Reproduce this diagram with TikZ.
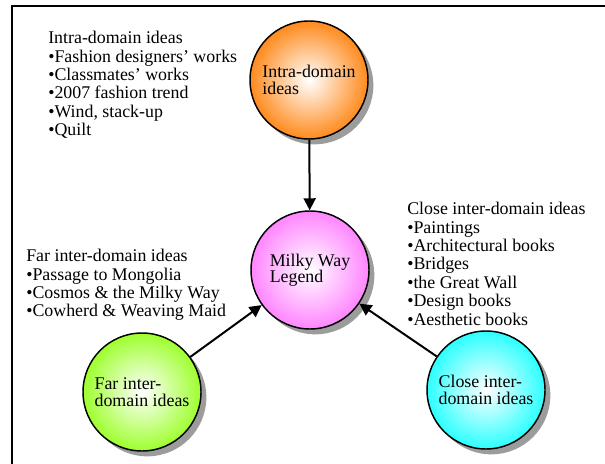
\documentclass[tikz,border=0pt]{standalone}
\usepackage{fontspec}
\setmainfont{Liberation Serif}
\usetikzlibrary{arrows.meta,positioning,shadows}
\definecolor{mwInk}{HTML}{000000}
\definecolor{mwShadow}{HTML}{9C9C9C}
\definecolor{mwOrange}{HTML}{FF8A1C}
\definecolor{mwPink}{HTML}{FF85FF}
\definecolor{mwLime}{HTML}{9EFF2E}
\definecolor{mwCyan}{HTML}{2CFFFF}
\tikzset{
  mw frame/.style={draw=mwInk, line width=1.5pt},
  mw bubble/.style={
    circle,
    draw=mwInk,
    line width=1.1pt,
    minimum size=88.5pt,
    inner sep=0pt,
    align=left,
    inner color=white,
    outer color=#1,
    font=\fontsize{13.4pt}{12.4pt}\selectfont,
    drop shadow={shadow xshift=4pt, shadow yshift=-4pt, fill=mwShadow, opacity=1}
  },
  mw link/.style={
    draw=mwInk,
    line width=1.5pt,
    -{Triangle[length=9pt,width=9pt]}
  },
  mw list/.style={
    anchor=north west,
    inner sep=0pt,
    align=left,
    font=\fontsize{13.4pt}{13.8pt}\selectfont
  }
}

\begin{document}
\begin{tikzpicture}[x=0.75pt,y=-0.75pt]
  \clip (0,0) rectangle (605,463);
  \fill[white] (0,0) rectangle (605,463);
  \draw[mw frame] (640,6) -- (12,6) -- (12,490);

  % idea bubbles
  \node[mw bubble=mwOrange] (intra) at (309,80) {Intra-domain\\ideas};
  \node[mw bubble=mwPink] (legend) at (310,270) {Milky Way\\Legend};
  \node[mw bubble=mwLime] (far) at (142,392) {Far inter-\\domain ideas};
  \node[mw bubble=mwCyan] (close) at (486,390) {Close inter-\\domain ideas};

  \draw[mw link] (intra) -- (legend);
  \draw[mw link] (far) -- (legend);
  \draw[mw link] (close) -- (legend);

  % idea lists
  \node[mw list] (intra list) at (48,31) {Intra-domain ideas\\
    •Fashion designers’ works\\
    •Classmates’ works\\
    •2007 fashion trend\\
    •Wind, stack-up\\
    •Quilt};
  \node[mw list] (close list) at (407,202) {Close inter-domain ideas\\
    •Paintings\\
    •Architectural books\\
    •Bridges\\
    •the Great Wall\\
    •Design books\\
    •Aesthetic books};
  \node[mw list] (far list) at (26,249) {Far inter-domain ideas\\
    •Passage to Mongolia\\
    •Cosmos \& the Milky Way\\
    •Cowherd \& Weaving Maid};
\end{tikzpicture}
\end{document}
